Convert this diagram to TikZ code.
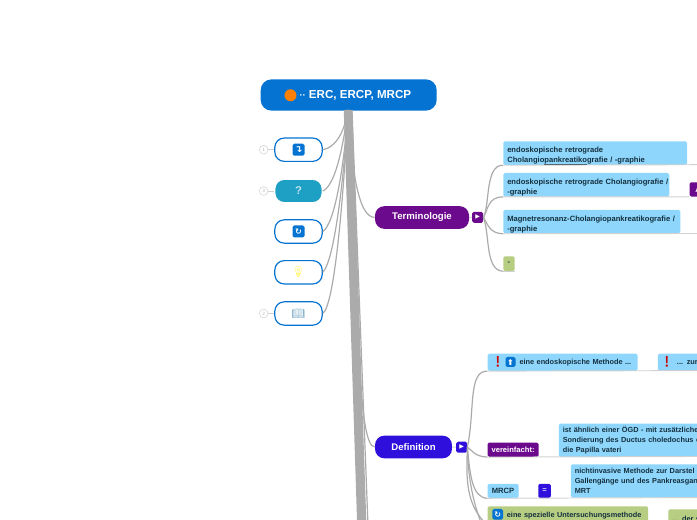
\documentclass[tikz,border=0pt]{standalone}
\usepackage{fontspec}
\setmainfont{Liberation Sans}
\newfontfamily\symbfont{DejaVu Sans}
\newfontfamily\emojifont{Noto Emoji}
\usetikzlibrary{positioning}
\definecolor{rootblue}{HTML}{0573D1}
\definecolor{termpurple}{HTML}{6B0A8C}
\definecolor{defblue}{HTML}{2F0FDC}
\definecolor{leafblue}{HTML}{8FD6FC}
\definecolor{leafgreen}{HTML}{B7CD82}
\definecolor{teal}{HTML}{1E9FC4}
\definecolor{branchgray}{HTML}{ABABAB}
\definecolor{inkdark}{HTML}{14303E}
\newcommand\leafstrut{\rule{0pt}{8.4pt}}
\newcommand\leafunder[1]{\vtop{\hbox{#1}\kern0.2pt\hrule height 0.35pt}}
\tikzset{
  rootbox/.style={fill=rootblue, text=white, rounded corners=8pt, inner sep=0pt,
    minimum width=132pt, minimum height=23.4pt, font=\bfseries\fontsize{8.7}{11}\selectfont},
  topicbox/.style={fill=#1, text=white, rounded corners=7pt, inner sep=0pt,
    minimum height=17pt, font=\bfseries\fontsize{7.2}{9}\selectfont},
  sidebox/.style={draw=rootblue, fill=white, line width=0.9pt, rounded corners=7pt,
    minimum width=35.5pt, minimum height=17.5pt, inner sep=0pt},
  leaf/.style 2 args={anchor=north west, fill=leafblue, text=inkdark, rounded corners=1.2pt,
    inner xsep=3pt, inner ysep=0pt, minimum height=#2, text width=#1, align=left,
    font=\bfseries\fontsize{5.7}{7.5}\selectfont},
  leafsmall/.style={font=\bfseries\fontsize{5.5}{7.5}\selectfont},
  tagbox/.style={anchor=north west, fill=#1, rounded corners=1.2pt, inner sep=0pt,
    minimum height=10.7pt, font=\bfseries\fontsize{5.7}{7}\selectfont},
  togglebox/.style={fill=#1, text=white, rounded corners=1.2pt, inner sep=0pt,
    minimum size=8.2pt, font=\symbfont\fontsize{4.5}{5}\selectfont},
  iconbox/.style={fill=#1, text=white, rounded corners=1.2pt, inner sep=0pt,
    minimum size=7.5pt, font=\symbfont\bfseries\fontsize{6}{6}\selectfont},
  emojitext/.style={inner sep=0pt, text=#1, font=\emojifont\fontsize{8}{8}\selectfont},
  badge/.style={circle, draw=black!15, fill=white, text=black!30, inner sep=0pt,
    minimum size=6.5pt, line width=0.5pt, font=\fontsize{3.5}{4}\selectfont},
  branch/.style={draw=branchgray, line width=0.9pt},
  trunk/.style={draw=branchgray, line width=2pt},
  baseline/.style={draw=black!18, line width=0.7pt},
}
\begin{document}
\begin{tikzpicture}[x=0.75pt, y=-0.75pt]
  \path[use as bounding box, clip] (0,0) rectangle (697,520);

  %% top of the map
  \node[rootbox] (root) at (348.7,95) {\hspace{10pt}{\fontsize{7}{7}\selectfont ··} ERC, ERCP, MRCP};
  \node[circle, fill=orange, inner sep=0pt, minimum size=9pt] (rootdot) at (290.5,95.3) {};
  \coordinate (trunktop) at (348,110);

  %% side nodes
  \node[sidebox] (jump) at (298.5,149.7) {};
  \node[sidebox, draw=white, fill=teal] (quest) at (298.5,191) {};
  \node[sidebox] (again) at (298.5,231.5) {};
  \node[sidebox] (idea) at (298.5,272.3) {};
  \node[sidebox] (book) at (298.5,313.5) {};
  \node[iconbox=rootblue, minimum size=9pt, font=\symbfont\bfseries\fontsize{7}{7}\selectfont] (jumpicon) at (jump) {↴};
  \node[inner sep=0pt, text=white!70!teal, font=\bfseries\fontsize{8.5}{9}\selectfont] (questicon) at (quest) {?};
  \node[iconbox=rootblue, minimum size=9pt] (againicon) at (again) {↻};
  \node[emojitext=yellow!75!white] (ideaicon) at (idea) {💡};
  \node[emojitext=black!25!leafblue] (bookicon) at (book) {📖};

  \node[badge] (jumpbadge) at (263.7,149.7) {1};
  \node[badge] (questbadge) at (263.7,191) {3};
  \node[badge] (bookbadge) at (263.7,313.5) {2};
  \draw[baseline] (jumpbadge) -- (jump);
  \draw[baseline] (questbadge) -- (quest);
  \draw[baseline] (bookbadge) -- (book);

  %% main trunk running off the page
  \foreach \i in {0,1,2,3}
    \draw[trunk] ([xshift=-2.2pt+\i*1.5pt]trunktop) -- (358.5+\i*2.2,525);
  \draw[branch] ([xshift=3pt]trunktop) -- (368,525);

  \draw[branch] (trunktop) .. controls (344,135) and (334,148) .. (jump.east);
  \draw[branch] (trunktop) .. controls (342,155) and (334,186) .. (quest.east);
  \draw[branch] (trunktop) .. controls (344,170) and (334,225) .. (again.east);
  \draw[branch] (trunktop) .. controls (344,180) and (334,262) .. (idea.east);
  \draw[branch] (trunktop) .. controls (344,190) and (335,305) .. (book.east);

  %% Terminologie
  \node[topicbox=termpurple, minimum width=70.5pt] (term) at (422,217.5) {Terminologie};
  \node[togglebox=termpurple] (termtoggle) at (477.7,217.3) {▶};
  \draw[branch] (trunktop) .. controls (352,170) and (358,217) .. (term.west);
  \draw[baseline] (term.east) -- (termtoggle.west);

  \node[leaf={131.8pt}{17.8pt}] (termone) at (503,141) {\leafstrut\mbox{endoskopische retrograde}\\\mbox{Cholangio\leafunder{pankreatiko}grafie / -graphie}};
  \node[leaf={118.5pt}{17.8pt}] (termtwo) at (503,172.7) {\leafstrut\mbox{endoskopische retrograde Cholangiografie /}\\-graphie};
  \node[leaf={126.8pt}{17.8pt}] (termthree) at (503,209.5) {\leafstrut\mbox{Magnetresonanz-Cholangiopankreatikografie /}\\-graphie};
  \node[tagbox=leafgreen, minimum width=8.6pt, minimum height=11pt, text=inkdark] (termfour) at (503,256) {-};
  \node[tagbox=termpurple, minimum width=12pt, text=white] (termextra) at (689.3,182) {\hspace{1pt}A};

  \coordinate (termoneend) at (697,164.7);
  \coordinate (termthreeend) at (697,233.5);
  \draw[baseline] (termone.south west) -- (termoneend);
  \draw[baseline] (termtwo.south west) -- (termextra.south west);
  \draw[baseline] (termthree.south west) -- (termthreeend);
  \draw[baseline] (termfour.south west) -- (termfour.south east);

  \draw[branch] (termtoggle.east) .. controls (490,205) and (485,164.7) .. (termone.south west);
  \draw[branch] (termtoggle.east) .. controls (488,210) and (488,196.5) .. (termtwo.south west);
  \draw[branch] (termtoggle.east) .. controls (488,225) and (490,233.5) .. (termthree.south west);
  \draw[branch] (termtoggle.east) .. controls (490,235) and (485,270.6) .. (termfour.south west);

  %% Definition
  \node[topicbox=defblue, minimum width=57.7pt] (defn) at (413.5,447) {Definition};
  \node[togglebox=defblue] (deftoggle) at (461.7,447.2) {▶};
  \draw[branch] (trunktop) .. controls (358,300) and (357,447) .. (defn.west);
  \draw[baseline] (defn.east) -- (deftoggle.west);

  \node[leaf={106.5pt}{12.9pt}, leafsmall] (defone) at (487.3,353.4) {\mbox{\hspace{21pt}eine endoskopische Methode ...}};
  \node[leaf={40pt}{12.9pt}, leafsmall] (deftwo) at (657.5,353.4) {\mbox{\hspace{11.4pt}... zur}};
  \node[emojitext=red!80!black] (defonemark) at (497.8,362) {❗};
  \node[iconbox=rootblue] (defonearrow) at (510.5,362) {⬆};
  \node[emojitext=red!80!black] (deftwomark) at (667,362) {❗};

  \node[tagbox=termpurple, minimum width=38.3pt, text=white] (simple) at (487.3,442.3) {vereinfacht:};
  \node[leaf={150pt}{25pt}, leafsmall] (simpletext) at (558.5,423.3) {ist ähnlich einer ÖGD - mit zusätzlicher\\Sondierung des Ductus choledochus e\\die Papilla vateri};
  \node[tagbox=leafblue, minimum width=23.3pt, text=inkdark] (mrcp) at (487.3,483.5) {MRCP};
  \node[tagbox=defblue, minimum width=9.4pt, text=white!80!defblue] (equal) at (538,483.5) {=};
  \node[leaf={150pt}{25pt}, leafsmall] (mrcptext) at (570.5,464) {nichtinvasive Methode zur Darstel\\Gallengänge und des Pankreasgan\\MRT};
  \node[leaf={114.5pt}{14pt}, fill=leafgreen, leafsmall] (special) at (487.3,506) {\mbox{\hspace{11.5pt}eine spezielle Untersuchungsmethode}};
  \node[iconbox=rootblue, minimum size=8pt] (specialicon) at (497.7,514.3) {↻};
  \node[leaf={40pt}{14pt}, fill=leafgreen, leafsmall] (specialmore) at (668,509) {... der s};

  \coordinate (defoneend) at (697,370.6);
  \coordinate (simpleend) at (697,456.5);
  \coordinate (mrcpend) at (697,497.6);
  \coordinate (deflow) at (482,525);
  \draw[baseline] (defone.south west) -- (defoneend);
  \draw[baseline] (simple.south west) -- (simpleend);
  \draw[baseline] (mrcp.south west) -- (mrcpend);

  \draw[branch] (deftoggle.east) .. controls (475,410) and (468,370.6) .. (defone.south west);
  \draw[branch] (deftoggle.east) .. controls (472,450) and (474,456.5) .. (simple.south west);
  \draw[branch] (deftoggle.east) .. controls (470,475) and (472,497.6) .. (mrcp.south west);
  \draw[branch] (deftoggle.east) .. controls (468,475) and (472,500) .. (deflow);
  \draw[branch] (deftoggle.east) .. controls (466,480) and (466,505) .. (special.south west);
\end{tikzpicture}
\end{document}
